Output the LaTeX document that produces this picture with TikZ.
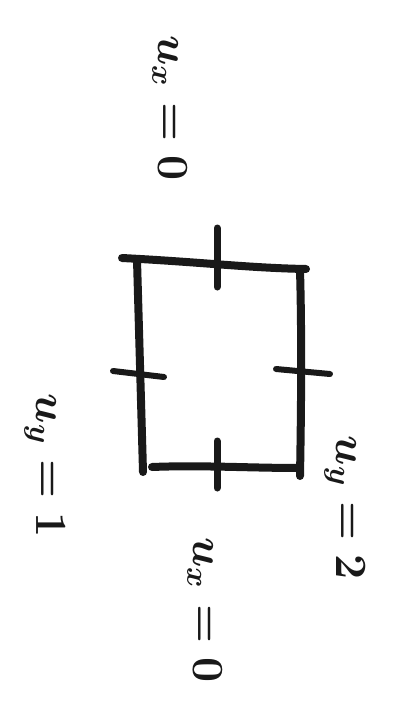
\documentclass[tikz,border=0pt]{standalone}
\usepackage{graphicx}
\newcommand{\biglbl}[1]{\scalebox{3.1}{\boldmath$#1$}}
\begin{document}
\begin{tikzpicture}[x=1pt,y=-1pt,
  stroke/.style={line width=8pt,line cap=round,line join=round,black!90},
  lbl/.style={rotate=-90,font=\Large,inner sep=0pt,black!90}]
\useasboundingbox (0,0) rectangle (401,709);
% corners
\coordinate (tl) at (122,258);
\coordinate (tr) at (306,269);
\coordinate (br) at (299,468);
\coordinate (bl) at (143,470);
\draw[stroke] (tl) .. controls (200,262) and (250,268) .. (tr);
\draw[stroke] (137,260) .. controls (139,330) and (141,400) .. (143,472);
\draw[stroke] (300,270) .. controls (302,340) and (301,420) .. (300,476);
\draw[stroke] (152,467) .. controls (200,465) and (250,468) .. (br);
% ticks
\coordinate (tt1) at (217,228); \coordinate (tt2) at (217,287);
\coordinate (bt1) at (217,441); \coordinate (bt2) at (217,488);
\coordinate (lt1) at (113,371); \coordinate (lt2) at (164,377);
\coordinate (rt1) at (276,369); \coordinate (rt2) at (330,374);
\draw[stroke,line width=7pt] (tt1) -- (tt2);
\draw[stroke,line width=7pt] (bt1) -- (bt2);
\draw[stroke,line width=6pt] (lt1) -- (lt2);
\draw[stroke,line width=6pt] (rt1) -- (rt2);
% labels
\node[lbl] (top) at (170,108) {\biglbl{u_x=0}};
\node[lbl] (left) at (45,466) {\biglbl{u_y=1}};
\node[lbl] (right) at (345,508) {\biglbl{u_y=2}};
\node[lbl] (bottom) at (205,610) {\biglbl{u_x=0}};
\end{tikzpicture}
\end{document}
